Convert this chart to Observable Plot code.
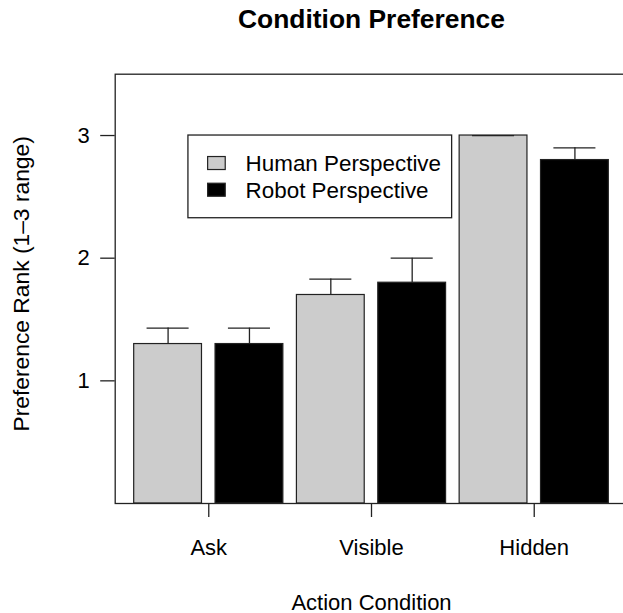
<!DOCTYPE html>
<html>
<head>
<meta charset="utf-8">
<script src="https://cdn.jsdelivr.net/npm/d3@7"></script>
<script src="https://cdn.jsdelivr.net/npm/@observablehq/plot@0.6"></script>
<style>
  html, body { margin: 0; padding: 0; background: #fff; overflow: hidden; }
  svg { font-family: "Liberation Sans", Arial, Helvetica, sans-serif; }
</style>
</head>
<body>
<div id="chart"></div>
<script>
// ---- data ----
const conditions = ["Ask", "Visible", "Hidden"];
const seriesNames = ["Human Perspective", "Robot Perspective"];
const humanValues = [1.3, 1.7, 3.0];
const robotValues = [1.3, 1.8, 2.8];
const humanErrors = [0.13, 0.13, 0.0];
const robotErrors = [0.13, 0.2, 0.1];
const yTicks = [1, 2, 3];

const title = "Condition Preference";
const xLabel = "Action Condition";
const yLabel = "Preference Rank (1\u20133 range)";

// R barplot(beside = TRUE, space = 0.2) geometry in user units
const barWidth = 1, space = 0.2;
const bars = [];
conditions.forEach((c, i) => {
  [humanValues, robotValues].forEach((vals, j) => {
    const k = i * 2 + j;
    const left = space + k * (barWidth + space);
    bars.push({
      condition: c,
      series: seriesNames[j],
      value: vals[i],
      err: (j === 0 ? humanErrors : robotErrors)[i],
      x1: left,
      x2: left + barWidth,
      cx: left + barWidth / 2
    });
  });
});
const groupCenters = conditions.map((c) => {
  const g = bars.filter(b => b.condition === c);
  return (g[0].x1 + g[g.length - 1].x2) / 2;
});
const xmin = bars[0].x1, xmax = bars[bars.length - 1].x2;
const pad = (xmax - xmin) * 0.04;

const fs = 22;
const plot = Plot.plot({
  width: 623,
  height: 613,
  marginTop: 73.7,
  marginBottom: 110,
  marginLeft: 114.7,
  marginRight: -4.3,
  style: { fontFamily: "Liberation Sans, Arial, Helvetica, sans-serif", fontSize: fs + "px", color: "black", background: "white", overflow: "hidden" },
  x: { type: "linear", domain: [xmin - pad, xmax + pad] },
  y: { domain: [0, 3.5] },
  color: { domain: seriesNames, range: ["#cccccc", "#000000"] },
  marks: [
    Plot.rectY(bars, { x1: "x1", x2: "x2", y: "value", fill: "series", stroke: "#222", strokeWidth: 1.2 }),
    Plot.ruleX(bars, { x: "cx", y1: "value", y2: d => d.value + d.err, stroke: "#222", strokeWidth: 1.3 }),
    Plot.ruleY(bars, { y: d => d.value + d.err, x1: d => d.cx - 0.31, x2: d => d.cx + 0.31, stroke: "#222", strokeWidth: 1.3 }),
    Plot.frame({ stroke: "#222", strokeWidth: 1.3 }),
    Plot.axisY({ ticks: yTicks, tickFormat: d3.format("d"), tickSize: 14.5, tickPadding: 11, fontSize: fs, label: null, stroke: "#222", strokeWidth: 1.3 }),
    Plot.axisX({ ticks: groupCenters, tickFormat: (d) => conditions[groupCenters.indexOf(d)], tickSize: 14, tickPadding: 21.4, fontSize: fs, label: null, stroke: "#222", strokeWidth: 1.3 }),
    Plot.text([title], { frameAnchor: "top", lineAnchor: "bottom", dy: -46.2, fontWeight: "bold", fontSize: 26.4 }),
    Plot.text([xLabel], { frameAnchor: "bottom", lineAnchor: "bottom", dy: 106, fontSize: fs }),
    Plot.text([yLabel], { frameAnchor: "left", textAnchor: "middle", rotate: -90, dx: -93, dy: -5, fontSize: 22.8 })
  ]
});
document.getElementById("chart").appendChild(plot);

// ---- legend: R legend(x = 1, y = 3, ...) anchored at user coordinates ----
const sx = plot.scale("x"), sy = plot.scale("y"), sc = plot.scale("color");
const lx = sx.apply(1), ly = sy.apply(3);
const svg = d3.select(plot);
const lg = svg.append("g").attr("transform", `translate(${lx},${ly})`);
lg.append("rect").attr("x", 0).attr("y", 0).attr("width", 263.7).attr("height", 82.7)
  .attr("fill", "white").attr("stroke", "#222").attr("stroke-width", 1.3);
seriesNames.forEach((name, i) => {
  const cy = 28 + i * 26.7;
  lg.append("rect").attr("x", 19.7).attr("y", cy - 6.5).attr("width", 17.6).attr("height", 13)
    .attr("fill", sc.apply(name)).attr("stroke", "#222").attr("stroke-width", 1.2);
  lg.append("text").attr("x", 57.7).attr("y", cy).attr("dy", "0.35em")
    .attr("text-anchor", "start")
    .attr("font-size", 22.4).attr("fill", "black").text(name);
});
</script>
</body>
</html>
